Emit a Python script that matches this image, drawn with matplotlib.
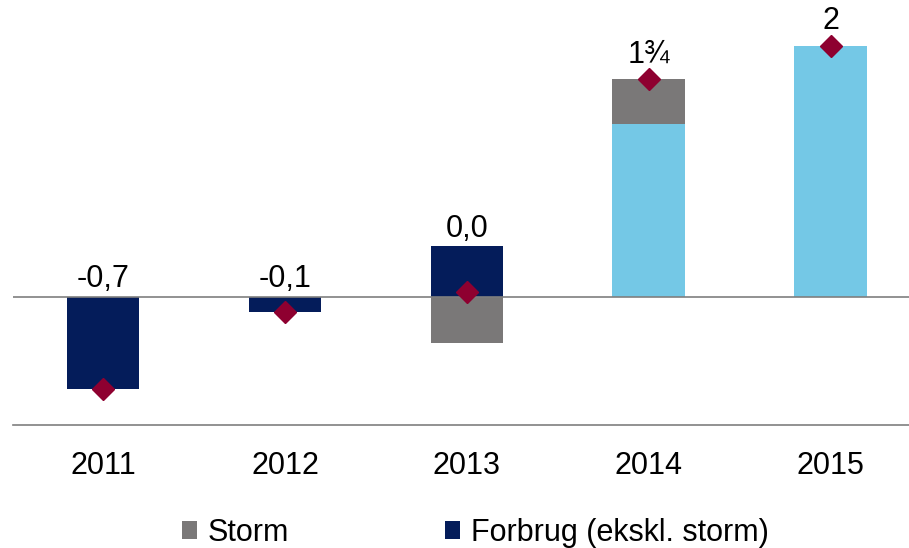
import matplotlib.pyplot as plt
import numpy as np

plt.rcParams['font.family'] = ['Liberation Sans', 'DejaVu Sans']

# -------------------------
# Data
# -------------------------
years = ["2011", "2012", "2013", "2014", "2015"]
forbrug = [-0.72, -0.115, 0.395, 0.0, 0.0]     # navy
storm = [0.0, 0.0, -0.36, 0.35, 0.0]           # gray
other = [0.0, 0.0, 0.0, 1.35, 1.96]            # light blue
total = [-0.72, -0.12, 0.04, 1.70, 1.96]       # diamonds
labels = ["-0,7", "-0,1", "0,0", "1\u00be", "2"]

navy = "#041c5a"
gray = "#7a7878"
lightblue = "#74c8e6"
red = "#8e0030"

# -------------------------
# Plot
# -------------------------
fig = plt.figure(figsize=(9.09, 5.48), dpi=100)
ax = fig.add_axes([13 / 909, 123 / 548, 1 - 13 / 909, 425 / 548])

x = np.arange(len(years))
w = 0.4

ax.bar(x, other, w, color=lightblue, zorder=2)
ax.bar(x, forbrug, w, color=navy, label="Forbrug (ekskl. storm)", zorder=2)
# storm stacks on top of positive parts, below zero otherwise
storm_bottom = [o if s > 0 else 0 for o, s in zip(other, storm)]
ax.bar(x, storm, w, bottom=storm_bottom, color=gray, label="Storm", zorder=2)

ax.plot(x, total, linestyle="none", marker="D", markersize=11,
        color=red, zorder=4)

# value labels above the highest part of each bar (and above the diamond)
for i in range(len(years)):
    bar_top = max(0, forbrug[i], other[i] + max(storm[i], 0))
    top = max(bar_top, total[i])
    extra = 5 if total[i] >= bar_top - 0.05 and total[i] > 0.2 else 0
    ax.annotate(labels[i], (x[i], top), xytext=(0, 2 + extra), textcoords="offset points",
                ha="center", va="bottom", fontsize=22)

ax.axhline(0, color="#7f7f7f", linewidth=1.2, zorder=3)

ax.set_xlim(-0.495, 4.43)
ax.set_ylim(-1, 2.32)
ax.set_xticks(x)
ax.set_xticklabels(years, fontsize=22)
ax.set_yticks([])
ax.tick_params(axis="x", length=0, pad=19)

for side in ["top", "right", "left"]:
    ax.spines[side].set_visible(False)
ax.spines["bottom"].set_color("#7f7f7f")
ax.spines["bottom"].set_linewidth(1.2)

handles, names = ax.get_legend_handles_labels()
fig.legend(handles[::-1], names[::-1], loc="center", bbox_to_anchor=(0.523, 0.028),
           ncol=2, frameon=False, fontsize=22, handlelength=0.5, handleheight=0.5,
           handletextpad=0.35, columnspacing=5.1)

fig.savefig("out.png", dpi=100)
